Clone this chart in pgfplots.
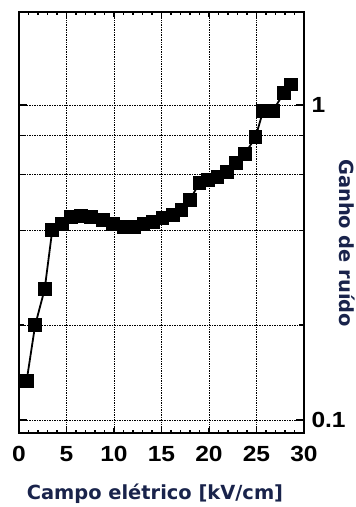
\documentclass[border=0pt]{standalone}
\usepackage{pgfplots}
\pgfplotsset{compat=1.18}
\usepackage{fontspec}
\setmainfont{Liberation Sans}
\newfontfamily\tickfont[FakeStretch=1.12]{Liberation Sans}
\newfontfamily\labelfont{DejaVu Sans}
\definecolor{labelnavy}{RGB}{25,35,75}

\pgfplotstableread{
field gain
0.8  0.133
1.7  0.200
2.7  0.260
3.5  0.400
4.5  0.420
5.5  0.440
6.5  0.445
7.6  0.440
8.8  0.430
9.9  0.420
11.0 0.410
12.1 0.410
13.1 0.418
14.1 0.425
15.1 0.438
16.2 0.448
17.1 0.464
18.0 0.500
19.0 0.566
19.9 0.578
20.9 0.590
21.9 0.613
22.8 0.655
23.8 0.700
24.9 0.790
25.7 0.957
26.7 0.957
27.9 1.090
28.6 1.160
}\gaindata

\begin{document}
\begin{tikzpicture}
\path[use as bounding box] (-19bp,-74bp) rectangle (337bp,433bp);
\begin{axis}[
  at={(0,0)}, anchor=south west,
  scale only axis, width=285bp, height=421bp,
  xmin=0, xmax=30,
  ymode=log, ymin=0.091, ymax=1.97,
  axis line style={line width=2.4bp},
  xtick={0,5,...,30}, xticklabels={0,5,10,15,20,25,30},
  minor x tick num=4,
  ytick={0.2,0.4,0.6,0.8}, yticklabels={},
  yminorticks=false,
  extra y ticks={0.1,1}, extra y tick labels={0.1,1},
  extra y tick style={major tick length=8bp,
    grid style={solid, black!70, line width=1.4bp}},
  yticklabel pos=right,
  tick align=inside,
  major tick length=5bp, minor tick length=3bp,
  tick style={black, line width=1.4bp},
  xmajorgrids, ymajorgrids,
  every axis x grid/.append style={black, line width=0.7bp, densely dotted},
  every axis y grid/.append style={black, line width=0.6bp, dash pattern=on 2bp off 1.2bp on 0.6bp off 1.2bp},
  tick label style={font=\tickfont\fontsize{22}{22}\selectfont\bfseries},
  xticklabel style={yshift=-10bp},
  yticklabel style={xshift=4bp},
  xlabel={Campo elétrico [kV/cm]},
  ylabel={Ganho de ruído},
  label style={font=\labelfont\fontsize{19.5}{19.5}\selectfont\bfseries, text=labelnavy},
  xlabel style={at={(axis description cs:0.477,-0.145)}, anchor=center},
  ylabel style={at={(axis description cs:1.151,0.451)}, anchor=center, rotate=-180},
]
\addplot[black, line width=1.8bp, mark=square*, mark size=6bp,
  mark options={solid, fill=black}] table[x=field, y=gain] {\gaindata};
\end{axis}
\end{tikzpicture}
\end{document}
